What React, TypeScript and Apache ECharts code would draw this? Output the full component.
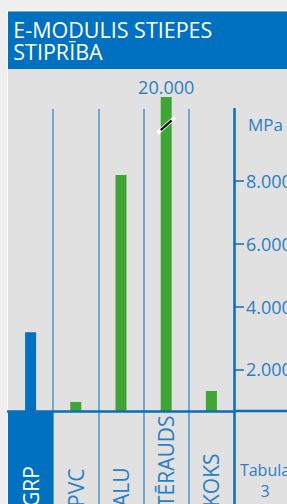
import React, { useEffect, useRef } from "react";
import * as echarts from "echarts";

// ---- data ----
const CATEGORIES = ["GRP", "PVC", "ALU", "TĒRAUDS", "KOKS"];
const E_MODULUS = [3180, 960, 8190, 20000, 1310]; // MPa
const HIGHLIGHT = "GRP";
const Y_TICKS = [2000, 4000, 6000, 8000];
const Y_MIN = 672;
const Y_MAX = 10680; // top of the (broken) plot area
const BREAK_MARK_AT = 9780;
const TITLE = "E-MODULIS STIEPES\nSTIPRĪBA";
const UNIT = "MPa";
const SIDE_NOTE = "Tabula\n3";

const BLUE = "#0070c0";
const GREEN = "#3fa535";
const TEXT_BLUE = "#2a7fc4";
const AXIS_BLUE = "#0b6db6";
const DIVIDER = "#4a95d0";

const fmt = (v: number) => {
  const s = Math.round(v).toString();
  return s.length > 3 ? s.slice(0, s.length - 3) + "." + s.slice(s.length - 3) : s;
};

export default function App() {
  const ref = useRef<HTMLDivElement>(null);
  useEffect(() => {
    if (!ref.current) return;
    const chart = echarts.init(ref.current, null, { renderer: "svg" });
    const barData = E_MODULUS.map((v, i) => {
      const broken = v > Y_MAX;
      return {
        value: broken ? Y_MAX : v,
        itemStyle: { color: CATEGORIES[i] === HIGHLIGHT ? BLUE : GREEN },
        label: broken
          ? {
              show: true,
              position: "top",
              distance: 1,
              formatter: fmt(v),
              color: TEXT_BLUE,
              fontSize: 18,
              fontFamily: "Open Sans",
            }
          : { show: false },
      };
    });
    const brokenIdx = E_MODULUS.findIndex((v) => v > Y_MAX);
    const gridBox = { left: 8, right: 53, outerBoundsMode: "none", containLabel: false };
    chart.setOption({
      animation: false,
      backgroundColor: "#efefef",
      textStyle: { fontFamily: "Open Sans" },
      graphic: [
        {
          type: "rect",
          z: -10,
          shape: { x: 7.5, y: 10.5, width: 290, height: 500 },
          style: { fill: "#e1e1e1", stroke: "#fafafa", lineWidth: 1 },
        },
        {
          type: "rect",
          z: -9,
          shape: { x: 8, y: 11.5, width: 279, height: 57.5 },
          style: { fill: BLUE },
        },
        {
          type: "text",
          z: 5,
          x: 13.3,
          y: 18.3,
          style: {
            text: TITLE,
            fill: "#ffffff",
            fontSize: 21.5,
            lineHeight: 22,
            fontFamily: "Open Sans",
            align: "left",
            verticalAlign: "top",
          },
        },
        {
          type: "line",
          z: 5,
          shape: { x1: 234, y1: 411, x2: 287, y2: 411 },
          style: { stroke: AXIS_BLUE, lineWidth: 2.5 },
        },
        {
          type: "text",
          z: 5,
          x: 265,
          y: 480,
          style: {
            text: SIDE_NOTE,
            fill: TEXT_BLUE,
            fontSize: 16,
            lineHeight: 21,
            fontFamily: "Open Sans",
            align: "center",
            verticalAlign: "middle",
          },
        },
      ],
      grid: [
        { ...gridBox, top: 97, bottom: 93 },
        { ...gridBox, top: 411, bottom: 0 },
        { ...gridBox, top: 109, bottom: 0 },
      ],
      xAxis: [
        {
          type: "category",
          gridIndex: 0,
          data: CATEGORIES,
          z: 10,
          axisLine: { show: true, lineStyle: { color: AXIS_BLUE, width: 2.5 } },
          axisTick: { show: false },
          axisLabel: {
            interval: 0,
            rotate: 90,
            align: "left",
            verticalAlign: "middle",
            margin: 96,
            fontSize: 21,
            fontFamily: "Open Sans",
            color: (val: string) => (val === HIGHLIGHT ? "#ffffff" : TEXT_BLUE),
          },
          splitLine: { show: false },
        },
        {
          type: "category",
          gridIndex: 1,
          data: CATEGORIES,
          axisLine: { show: false },
          axisTick: { show: false },
          axisLabel: { show: false },
          splitLine: { show: false },
        },
        {
          type: "category",
          gridIndex: 2,
          data: CATEGORIES,
          axisLine: { show: false },
          axisTick: { show: false, interval: 0 },
          axisLabel: { show: false, interval: 0 },
          splitLine: {
            show: true,
            interval: 0,
            showMinLine: false,
            showMaxLine: false,
            lineStyle: { color: DIVIDER, width: 1.5 },
          },
        },
      ],
      yAxis: [
        {
          type: "value",
          gridIndex: 0,
          position: "right",
          min: Y_MIN,
          max: Y_MAX,
          name: UNIT,
          nameLocation: "end",
          nameGap: -27.5,
          nameTextStyle: {
            color: TEXT_BLUE,
            fontSize: 17,
            align: "left",
            verticalAlign: "middle",
            padding: [0, 0, 0, 14],
            fontFamily: "Open Sans",
          },
          axisLine: { show: false },
          axisTick: {
            show: true,
            length: 10,
            customValues: Y_TICKS,
            lineStyle: { color: AXIS_BLUE, width: 1.5 },
          },
          axisLabel: {
            show: true,
            customValues: Y_TICKS,
            margin: 12,
            color: TEXT_BLUE,
            fontSize: 18,
            fontFamily: "Open Sans",
            formatter: (v: number) => fmt(v),
          },
          splitLine: { show: false },
        },
        {
          type: "value",
          gridIndex: 1,
          min: 0,
          max: 1,
          show: false,
        },
        {
          type: "value",
          gridIndex: 2,
          position: "right",
          min: 0,
          max: 1,
          axisLine: { show: true, lineStyle: { color: AXIS_BLUE, width: 2.5 } },
          axisTick: { show: false },
          axisLabel: { show: false },
          splitLine: { show: false },
        },
      ],
      series: [
        {
          type: "bar",
          xAxisIndex: 0,
          yAxisIndex: 0,
          barWidth: 11,
          z: 3,
          data: barData,
          markPoint:
            brokenIdx >= 0
              ? {
                  silent: true,
                  label: { show: false },
                  data: [
                    {
                      coord: [CATEGORIES[brokenIdx], BREAK_MARK_AT],
                      symbol: "rect",
                      symbolSize: [19, 3.2],
                      symbolRotate: 42,
                      itemStyle: { color: "#111111", borderColor: "#ffffff", borderWidth: 1.8 },
                    },
                  ],
                }
              : undefined,
        },
        {
          type: "bar",
          xAxisIndex: 1,
          yAxisIndex: 1,
          barWidth: "100%",
          silent: true,
          itemStyle: { color: BLUE },
          data: CATEGORIES.map((c) => (c === HIGHLIGHT ? 1 : "-")),
        },
      ],
    });
    return () => chart.dispose();
  }, []);
  return (
    <div
      ref={ref}
      style={{ position: "fixed", left: 0, top: 0, width: 287, height: 504 }}
    />
  );
}
